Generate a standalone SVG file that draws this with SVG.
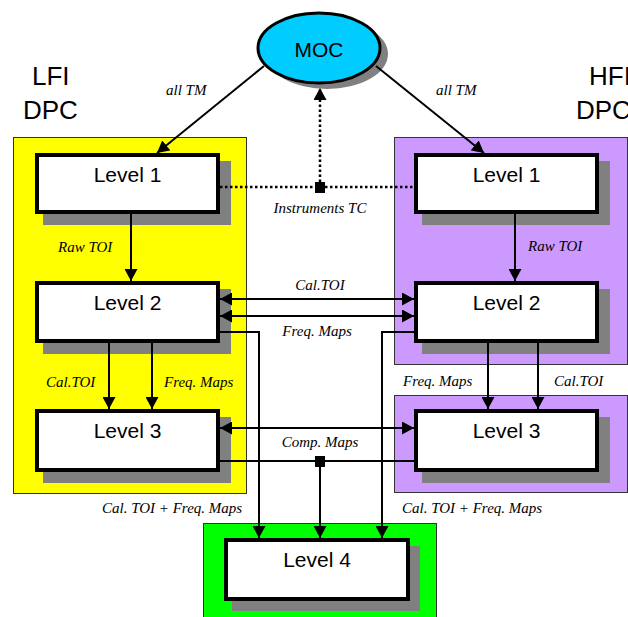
<svg xmlns="http://www.w3.org/2000/svg" width="628" height="617" viewBox="0 0 628 617">
  <style>
    .panel { stroke: #333333; stroke-width: 1; }
    .box { fill: #ffffff; stroke: #000000; stroke-width: 4; }
    .shadow { fill: #808080; }
    .lvl { font-family: "Liberation Sans", Arial, sans-serif; font-size: 21px; fill: #000000; text-anchor: middle; }
    .big { font-family: "Liberation Sans", Arial, sans-serif; font-size: 26px; fill: #000000; }
    .lbl { font-family: "Liberation Serif", "Times New Roman", serif; font-style: italic; font-size: 15px; fill: #000000; }
    .mid { text-anchor: middle; }
    .wire { fill: none; stroke: #000000; stroke-width: 2; }
    .dot { fill: none; stroke: #000000; stroke-width: 2.5; stroke-dasharray: 2.5 2.5; }
  </style>
  <defs>
    <marker id="arrow" markerUnits="userSpaceOnUse" markerWidth="13" markerHeight="13" refX="12" refY="6.5" orient="auto-start-reverse">
      <path d="M0,0 L12,6.5 L0,13 z" fill="#000000"/>
    </marker>
  </defs>

  <rect width="628" height="617" fill="#ffffff"/>

  <!-- DPC panels -->
  <g id="lfi-panel">
    <rect class="panel" x="13.5" y="137.5" width="233" height="356" fill="#ffff00"/>
    <text class="big" x="32" y="85">LFI</text>
    <text class="big" x="23" y="119">DPC</text>
  </g>
  <g id="hfi-panel">
    <rect class="panel" x="394.5" y="137.5" width="233" height="227" fill="#cc99ff"/>
    <rect class="panel" x="394.5" y="395.5" width="233" height="97" fill="#cc99ff"/>
    <text class="big" x="589" y="85">HFI</text>
    <text class="big" x="576" y="119">DPC</text>
  </g>
  <g id="l4-panel">
    <rect class="panel" x="203.5" y="523.5" width="233" height="100" fill="#00ff00"/>
  </g>

  <!-- MOC -->
  <g id="moc">
    <ellipse cx="327" cy="54" rx="61" ry="35" class="shadow"/>
    <ellipse cx="319" cy="48" rx="61" ry="35" fill="#00ccff" stroke="#000000" stroke-width="3"/>
    <text class="lvl" x="319" y="57">MOC</text>
  </g>

  <!-- LFI levels -->
  <g id="lfi-level1">
    <rect class="shadow" x="43" y="161" width="188" height="64"/>
    <rect class="box" x="37" y="155" width="181" height="57"/>
    <text class="lvl" x="127.5" y="182">Level 1</text>
  </g>
  <g id="lfi-level2">
    <rect class="shadow" x="43" y="289" width="188" height="65"/>
    <rect class="box" x="37" y="283" width="181" height="58"/>
    <text class="lvl" x="127.5" y="310">Level 2</text>
  </g>
  <g id="lfi-level3">
    <rect class="shadow" x="43" y="417" width="188" height="66"/>
    <rect class="box" x="37" y="411" width="181" height="59"/>
    <text class="lvl" x="127.5" y="438">Level 3</text>
  </g>

  <!-- HFI levels -->
  <g id="hfi-level1">
    <rect class="shadow" x="422" y="161" width="188" height="64"/>
    <rect class="box" x="416" y="155" width="181" height="57"/>
    <text class="lvl" x="506.5" y="182">Level 1</text>
  </g>
  <g id="hfi-level2">
    <rect class="shadow" x="422" y="289" width="188" height="65"/>
    <rect class="box" x="416" y="283" width="181" height="58"/>
    <text class="lvl" x="506.5" y="310">Level 2</text>
  </g>
  <g id="hfi-level3">
    <rect class="shadow" x="422" y="417" width="188" height="66"/>
    <rect class="box" x="416" y="411" width="181" height="59"/>
    <text class="lvl" x="506.5" y="438">Level 3</text>
  </g>

  <!-- Level 4 -->
  <g id="level4">
    <rect class="shadow" x="232" y="546" width="188" height="65"/>
    <rect class="box" x="226" y="540" width="182" height="59"/>
    <text class="lvl" x="317" y="567">Level 4</text>
  </g>

  <!-- connectors -->
  <g id="connectors">
    <!-- telemetry from MOC -->
    <line class="wire" x1="264" y1="66" x2="157" y2="153" marker-end="url(#arrow)"/>
    <line class="wire" x1="376" y1="66" x2="484" y2="153" marker-end="url(#arrow)"/>
    <!-- instrument telecommands -->
    <line class="dot" x1="220" y1="187" x2="414" y2="187"/>
    <line class="dot" x1="320" y1="187" x2="320" y2="88" marker-end="url(#arrow)"/>
    <rect x="315" y="182" width="10" height="11" fill="#000000"/>
    <!-- level 1 to level 2 -->
    <line class="wire" x1="131" y1="214" x2="131" y2="281" marker-end="url(#arrow)"/>
    <line class="wire" x1="515" y1="214" x2="515" y2="281" marker-end="url(#arrow)"/>
    <!-- level 2 exchanges -->
    <line class="wire" x1="220" y1="299" x2="414" y2="299" marker-start="url(#arrow)" marker-end="url(#arrow)"/>
    <line class="wire" x1="220" y1="316" x2="414" y2="316" marker-start="url(#arrow)" marker-end="url(#arrow)"/>
    <!-- level 2 to level 3 -->
    <line class="wire" x1="109" y1="343" x2="109" y2="409" marker-end="url(#arrow)"/>
    <line class="wire" x1="152" y1="343" x2="152" y2="409" marker-end="url(#arrow)"/>
    <line class="wire" x1="488" y1="343" x2="488" y2="409" marker-end="url(#arrow)"/>
    <line class="wire" x1="538" y1="343" x2="538" y2="409" marker-end="url(#arrow)"/>
    <!-- level 3 exchange -->
    <line class="wire" x1="220" y1="428" x2="414" y2="428" marker-start="url(#arrow)" marker-end="url(#arrow)"/>
    <!-- component maps to level 4 -->
    <line class="wire" x1="220" y1="461" x2="414" y2="461"/>
    <rect x="315" y="456" width="10" height="11" fill="#000000"/>
    <line class="wire" x1="320" y1="461" x2="320" y2="538" marker-end="url(#arrow)"/>
    <!-- level 2 to level 4 -->
    <polyline class="wire" points="220,332 259,332 259,538" marker-end="url(#arrow)"/>
    <polyline class="wire" points="414,332 382,332 382,538" marker-end="url(#arrow)"/>
  </g>

  <!-- connector labels -->
  <g id="labels">
    <text class="lbl" x="166" y="95">all TM</text>
    <text class="lbl" x="436" y="95">all TM</text>
    <text class="lbl mid" x="320" y="213">Instruments TC</text>
    <text class="lbl" x="58" y="252">Raw TOI</text>
    <text class="lbl" x="528" y="251">Raw TOI</text>
    <text class="lbl mid" x="320" y="290">Cal.TOI</text>
    <text class="lbl mid" x="317" y="336">Freq. Maps</text>
    <text class="lbl" x="46" y="387">Cal.TOI</text>
    <text class="lbl" x="164" y="387">Freq. Maps</text>
    <text class="lbl" x="403" y="386">Freq. Maps</text>
    <text class="lbl" x="554" y="386">Cal.TOI</text>
    <text class="lbl mid" x="320" y="447">Comp. Maps</text>
    <text class="lbl" x="102" y="513">Cal. TOI + Freq. Maps</text>
    <text class="lbl" x="402" y="513">Cal. TOI + Freq. Maps</text>
  </g>
</svg>
